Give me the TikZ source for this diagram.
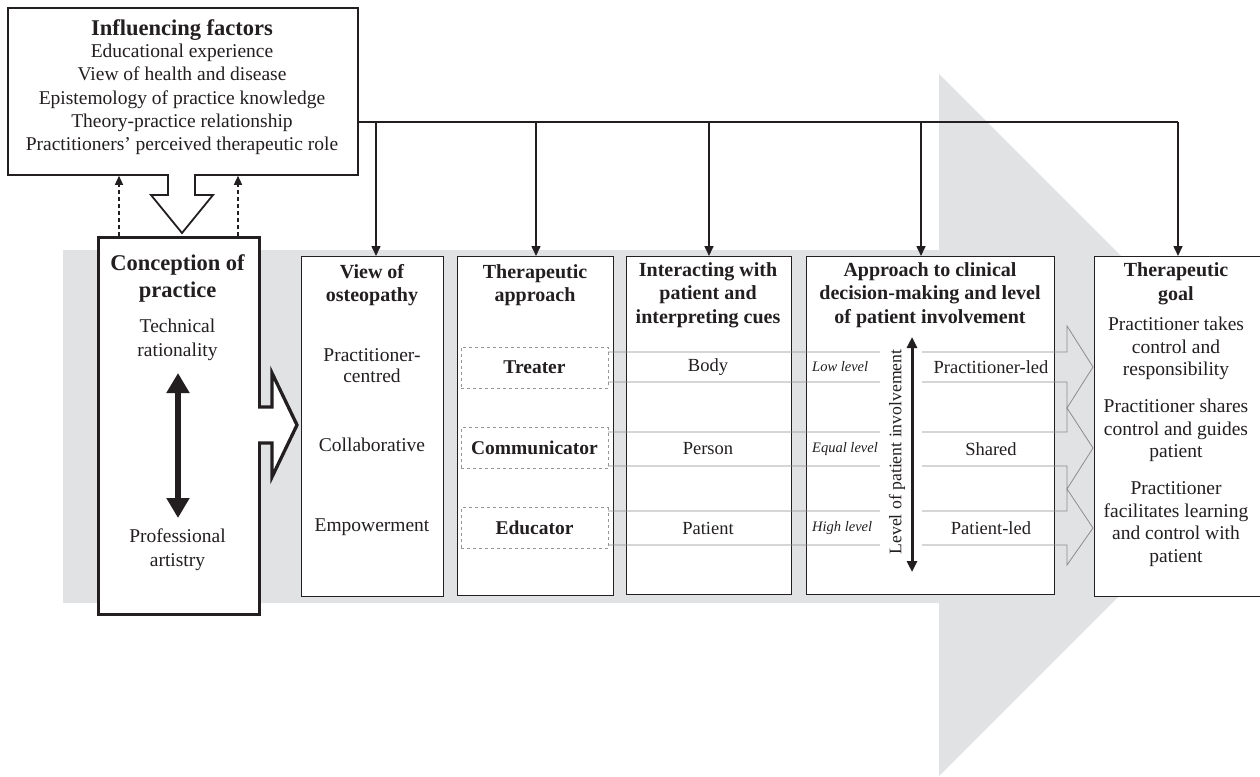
\documentclass[tikz,border=0pt]{standalone}
\usepackage{fontspec}
\setmainfont{Liberation Serif}
\usetikzlibrary{arrows.meta}
\definecolor{bandgray}{RGB}{225,226,228}
\definecolor{ink}{RGB}{35,31,32}
\definecolor{rowgray}{RGB}{140,140,140}
\definecolor{dashgray}{RGB}{150,150,150}
\begin{document}
\begin{tikzpicture}[x=1pt,y=-1pt,
  colbox/.style={draw=ink, line width=1.1pt, fill=white, anchor=north west, inner sep=0pt},
  body/.style={font=\fontsize{19.5}{23}\selectfont, align=center, inner sep=0pt, text=ink},
  ttl/.style={font=\fontsize{20}{23.5}\selectfont\bfseries, align=center, inner sep=0pt, text=ink},
  bigttl/.style={font=\fontsize{22.5}{27}\selectfont\bfseries, align=center, inner sep=0pt, text=ink},
  rowtxt/.style={font=\fontsize{18.5}{22}\selectfont, inner sep=0pt, text=ink},
  lvl/.style={font=\fontsize{14.5}{17}\selectfont\itshape, inner sep=0pt, anchor=west, text=ink},
  drop/.style={draw=ink, line width=1.6pt, -{Triangle[length=10pt,width=9pt]}},
  rowline/.style={draw=rowgray, line width=0.8pt},
  rolebox/.style={draw=dashgray, dashed, line width=0.8pt, minimum width=147pt, minimum height=41pt, inner sep=0pt, text=ink, font=\fontsize{19.5}{23}\selectfont\bfseries},
  hollow/.style={draw=ink, fill=white, line join=miter}
]
\useasboundingbox (0,0) rectangle (1260,776);

% background big arrow
\begin{scope}
\clip (0,0) rectangle (1260,776);
\fill[bandgray] (63,250) -- (939,250) -- (939,74) -- (1290,425) -- (939,776) -- (939,603) -- (63,603) -- cycle;
\end{scope}

% top connector bus
\coordinate (busL) at (357,122);
\coordinate (busR) at (1178,122);
\coordinate (d1) at (376,122);
\coordinate (d2) at (536,122);
\coordinate (d3) at (709,122);
\coordinate (d4) at (921,122);

% boxes
\node[colbox, line width=1.8pt, minimum width=350pt, minimum height=167pt] (infl) at (7,7) {};
\node[colbox, line width=3.3pt, minimum width=161pt, minimum height=377pt] (conc) at (97,236) {};
\node[colbox, minimum width=142pt, minimum height=340pt] (view) at (301,256) {};
\node[colbox, minimum width=156pt, minimum height=339pt] (appr) at (457,256) {};
\node[colbox, minimum width=165pt, minimum height=338pt] (inter) at (626,256) {};
\node[colbox, minimum width=248pt, minimum height=338pt] (clin) at (806,256) {};
\node[colbox, minimum width=166pt, minimum height=340pt] (goal) at (1094,256) {};

% hollow arrow down (influencing -> conception)
\fill[white] (168,171) -- (168,195) -- (151,195) -- (182,233) -- (213,195) -- (195,195) -- (195,171) -- cycle;
\draw[hollow, fill=none, line width=1.8pt] (168,174) -- (168,195) -- (151,195) -- (182,233) -- (213,195) -- (195,195) -- (195,174);

% hollow arrow right (conception -> view)
\fill[white] (255,407) -- (272,407) -- (272,373) -- (297,425) -- (272,477) -- (272,443) -- (255,443) -- cycle;
\draw[hollow, fill=none, line width=3.3pt] (258,407) -- (272,407) -- (272,373) -- (297,425) -- (272,477) -- (272,443) -- (258,443);

% dashed feedback arrows
\coordinate (fb1) at (119,236);
\coordinate (fb2) at (238,236);
\draw[draw=ink, line width=1.3pt, dash pattern=on 4pt off 3pt, -{Triangle[length=9pt,width=8pt]}] (fb1) -- (fb1 |- infl.south);
\draw[draw=ink, line width=1.3pt, dash pattern=on 4pt off 3pt, -{Triangle[length=9pt,width=8pt]}] (fb2) -- (fb2 |- infl.south);

% bus and drops
\draw[draw=ink, line width=1.6pt] (busL) -- (busR);
\draw[drop] (d1) -- (d1 |- view.north);
\draw[drop] (d2) -- (d2 |- appr.north);
\draw[drop] (d3) -- (d3 |- inter.north);
\draw[drop] (d4) -- (d4 |- clin.north);
\draw[drop] (busR) -- (busR |- goal.north);

% influencing text
\node[bigttl] (inflT) at (182,30) {Influencing factors};
\node[body, font=\fontsize{19.5}{23.2}\selectfont] (inflB) at (182,99.5) {Educational experience\\View of health and disease\\Epistemology of practice knowledge\\Theory-practice relationship\\Practitioners’ perceived therapeutic role};

% conception text
\node[bigttl] (concT) at (177.5,278.5) {Conception of\\practice};
\node[body, font=\fontsize{19.5}{24}\selectfont] (concA) at (177.5,340) {Technical\\rationality};
\node[body, font=\fontsize{19.5}{24}\selectfont] (concB) at (177.5,550) {Professional\\artistry};
\coordinate (dblTop) at (178,373);
\coordinate (dblBot) at (178,518);
\draw[draw=ink, line width=5.5pt, {Triangle[width=22pt,length=20pt]}-{Triangle[width=22pt,length=20pt]}] (dblTop) -- (dblBot);

% view column
\node[ttl] (viewT) at (372,285) {View of\\osteopathy};
\node[body, font=\fontsize{19.5}{21}\selectfont] (v1) at (372,365.5) {Practitioner-\\centred};
\node[body] (v2) at (372,445) {Collaborative};
\node[body] (v3) at (372,527) {Empowerment};

% therapeutic approach column
\node[ttl] (apprT) at (535,285) {Therapeutic\\approach};
\node[rolebox] (treater) at (534.5,367.5) {Treater};
\node[rolebox] (comm) at (534.5,448) {Communicator};
\node[rolebox] (educ) at (534.5,528) {Educator};

% interacting column
\node[ttl] (interT) at (708,295) {Interacting with\\patient and\\interpreting cues};
\node[rowtxt] (body) at (708,367) {Body};
\node[rowtxt] (person) at (708,449) {Person};
\node[rowtxt] (patient) at (708,528) {Patient};

% clinical decision column
\node[ttl] (clinT) at (930,295) {Approach to clinical\\decision-making and level\\of patient involvement};
\node[lvl] (low) at (812,367) {Low level};
\node[lvl] (equal) at (812,449) {Equal level};
\node[lvl] (high) at (812,528) {High level};
\node[rowtxt] (pled) at (991,367) {Practitioner-led};
\node[rowtxt] (shared) at (991,449) {Shared};
\node[rowtxt] (patled) at (991,528) {Patient-led};
\coordinate (lvTop) at (912,337);
\coordinate (lvBot) at (912,572);
\draw[draw=ink, line width=3pt, {Triangle[width=10pt,length=11pt]}-{Triangle[width=10pt,length=11pt]}] (lvTop) -- (lvBot);
\node[rotate=90, font=\fontsize{17.7}{20}\selectfont, inner sep=0pt, text=ink] (lvtext) at (897,452) {Level of patient involvement};

% row lines with thin hollow arrows
\draw[rowline] (608,352) -- (880,352) (922,352) -- (1067,352) -- (1067,326) -- (1093,367) -- (1067,408) -- (1067,382) -- (922,382) (880,382) -- (608,382);
\draw[rowline] (608,432) -- (880,432) (922,432) -- (1067,432) -- (1067,408) -- (1093,448) -- (1067,489) -- (1067,466) -- (922,466) (880,466) -- (608,466);
\draw[rowline] (608,511) -- (880,511) (922,511) -- (1067,511) -- (1067,489) -- (1093,528) -- (1067,565) -- (1067,545) -- (922,545) (880,545) -- (608,545);

% goal column
\node[ttl] (goalT) at (1176,284) {Therapeutic\\goal};
\node[body, font=\fontsize{19.5}{22.5}\selectfont] (g1) at (1176,348.5) {Practitioner takes\\control and\\responsibility};
\node[body, font=\fontsize{19.5}{22.5}\selectfont] (g2) at (1176,430.5) {Practitioner shares\\control and guides\\patient};
\node[body, font=\fontsize{19.5}{22.5}\selectfont] (g3) at (1176,524) {Practitioner\\facilitates learning\\and control with\\patient};
\end{tikzpicture}
\end{document}
